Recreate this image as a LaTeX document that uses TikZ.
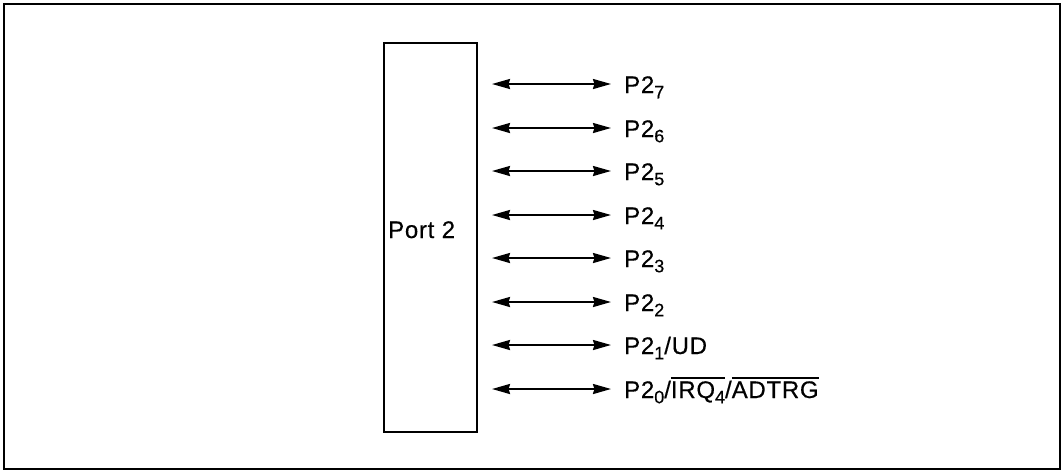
\documentclass[tikz,border=0pt]{standalone}
\usepackage{fontspec}
\setmainfont{Liberation Sans}[LetterSpace=3,FakeBold=0.4]
\usetikzlibrary{arrows.meta}
\newcommand{\lsub}[1]{\raisebox{-0.22em}{\fontsize{18}{18}\selectfont #1}}
\newcommand{\ovl}[1]{\leavevmode\vbox{\hrule height 1.5pt\kern 2.5pt\hbox{#1}}}
\begin{document}
\begin{tikzpicture}[x=1pt,y=-1pt,
  lbl/.style={anchor=base west,inner sep=0pt,font=\fontsize{24}{24}\selectfont},
  bidir/.style={line width=2pt,{Stealth[length=18pt,width=10pt,inset=1.5pt]}-{Stealth[length=18pt,width=10pt,inset=1.5pt]}}]
\useasboundingbox (0,0) rectangle (1064,472);
\draw[line width=2.5pt] (4,4) rectangle (1060,469);
\node[draw,line width=2pt,minimum width=93pt,minimum height=389pt,inner sep=0pt,anchor=north west] (port) at (383,42) {};
\node[lbl] (pname) at (388,238) {Port 2};
\foreach \k/\t in {7/{P2\lsub{7}},6/{P2\lsub{6}},5/{P2\lsub{5}},4/{P2\lsub{4}},3/{P2\lsub{3}},2/{P2\lsub{2}},1/{P2\lsub{1}/UD},0/{P2\lsub{0}/\ovl{IRQ\lsub{4}}/\ovl{ADTRG}}}{
  \pgfmathtruncatemacro{\yy}{84+round(43.5*(7-\k))}
  \coordinate (a\k) at (492,\yy);
  \coordinate (b\k) at (611,\yy);
  \node[lbl] (l\k) at (624,\yy+9) {\t};
  \draw[bidir] (a\k) -- (b\k);
}
\end{tikzpicture}
\end{document}
